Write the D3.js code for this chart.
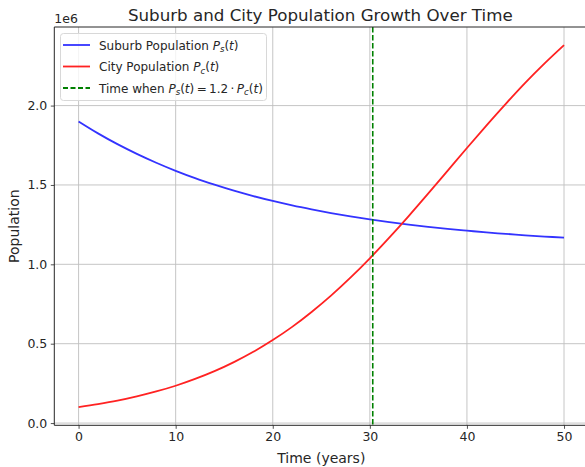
<!DOCTYPE html>
<html>
<head>
<meta charset="utf-8">
<script src="https://cdn.jsdelivr.net/npm/d3@7"></script>
<style>
  body { margin: 0; background: #fff; }
  text { font-family: "DejaVu Sans", sans-serif; fill: #262626; }
</style>
</head>
<body>
<svg id="chart" width="585" height="467"></svg>
<script>
var years = [0, 2, 4, 6, 8, 10, 12, 14, 16, 18, 20, 22, 24, 26, 28, 30, 32, 34, 36, 38, 40, 42, 44, 46, 48, 50];
var suburb = [1.900, 1.825, 1.757, 1.696, 1.640, 1.589, 1.543, 1.502, 1.464, 1.430, 1.399, 1.371, 1.346, 1.323, 1.302,
              1.283, 1.266, 1.250, 1.236, 1.223, 1.212, 1.201, 1.192, 1.183, 1.175, 1.168]; // millions
var city = [0.100, 0.119, 0.141, 0.168, 0.199, 0.235, 0.278, 0.327, 0.384, 0.449, 0.523, 0.606, 0.700, 0.803, 0.916,
            1.038, 1.168, 1.304, 1.445, 1.589, 1.733, 1.874, 2.011, 2.143, 2.266, 2.381]; // millions
var crossTime = 30.3;
var xTicks = [0, 10, 20, 30, 40, 50];
var yTicks = [0, 0.5e6, 1.0e6, 1.5e6, 2.0e6];

var svg = d3.select("#chart"),
    pLeft = 54.3, pRight = 588.3, pTop = 27, pBottom = 425.3;

var sData = years.map(function(t, i) { return {t: t, v: suburb[i] * 1e6}; });
var cData = years.map(function(t, i) { return {t: t, v: city[i] * 1e6}; });

// matplotlib style 5% margins
var xr = d3.extent(years), xpad = (xr[1] - xr[0]) * 0.05;
var all = suburb.concat(city).map(function(d) { return d * 1e6; });
var yr = d3.extent(all), ypad = (yr[1] - yr[0]) * 0.05;

var x = d3.scaleLinear().domain([xr[0] - xpad, xr[1] + xpad]).range([pLeft, pRight]);
var y = d3.scaleLinear().domain([yr[0] - ypad, yr[1] + ypad]).range([pBottom, pTop]);

svg.append("defs").append("clipPath").attr("id", "clip")
  .append("rect").attr("x", pLeft).attr("y", pTop).attr("width", pRight - pLeft).attr("height", pBottom - pTop);

// grid
var grid = svg.append("g").attr("stroke", "#b0b0b0").attr("stroke-width", 0.9).attr("opacity", 0.8);
grid.selectAll(".gx").data(xTicks).enter().append("line")
  .attr("x1", function(d) { return x(d); }).attr("x2", function(d) { return x(d); })
  .attr("y1", pTop).attr("y2", pBottom);
grid.selectAll(".gy").data(yTicks).enter().append("line")
  .attr("y1", function(d) { return y(d); }).attr("y2", function(d) { return y(d); })
  .attr("x1", pLeft).attr("x2", pRight);

// axes
var xAxis = svg.append("g").attr("transform", "translate(0," + pBottom + ")")
  .call(d3.axisBottom(x).tickValues(xTicks).tickSize(3.5).tickPadding(3.5).tickFormat(d3.format("d")));
var yAxis = svg.append("g").attr("transform", "translate(" + pLeft + ",0)")
  .call(d3.axisLeft(y).tickValues(yTicks).tickSize(3.5).tickPadding(3.5).tickFormat(function(d) { return (d / 1e6).toFixed(1); }));
[xAxis, yAxis].forEach(function(a) {
  a.select(".domain").remove();
  a.selectAll("line").attr("stroke", "#262626").attr("stroke-width", 0.8);
  a.selectAll("text").attr("font-size", 12.5).attr("fill", "#262626").attr("font-family", "DejaVu Sans");
});

// lines
var line = d3.line().x(function(d) { return x(d.t); }).y(function(d) { return y(d.v); }).curve(d3.curveCatmullRom);
var plot = svg.append("g").attr("clip-path", "url(#clip)");
plot.append("path").datum(sData).attr("d", line)
  .attr("fill", "none").attr("stroke", "#3333ff").attr("stroke-width", 1.8);
plot.append("path").datum(cData).attr("d", line)
  .attr("fill", "none").attr("stroke", "#ff2222").attr("stroke-width", 1.8);
plot.append("line")
  .attr("x1", x(crossTime)).attr("x2", x(crossTime)).attr("y1", pTop).attr("y2", pBottom)
  .attr("stroke", "#008000").attr("stroke-width", 1.6).attr("stroke-dasharray", "5.5,2.5");

// spines
svg.append("path").attr("d", "M" + pRight + "," + pTop + "H" + pLeft + "V" + pBottom + "H" + pRight)
  .attr("fill", "none").attr("stroke", "#262626").attr("stroke-width", 1);

// title and labels
svg.append("text").attr("x", (pLeft + pRight) / 2 - 1).attr("y", 21).attr("text-anchor", "middle")
  .attr("font-size", 16.7).text("Suburb and City Population Growth Over Time");
svg.append("text").attr("x", (pLeft + pRight) / 2).attr("y", 463).attr("text-anchor", "middle")
  .attr("font-size", 14).text("Time (years)");
svg.append("text").attr("transform", "translate(19," + (pTop + pBottom) / 2 + ") rotate(-90)")
  .attr("text-anchor", "middle").attr("font-size", 14).text("Population");
svg.append("text").attr("x", pLeft).attr("y", 23).attr("font-size", 12.5).text("1e6");

// legend
var lg = svg.append("g");
lg.append("rect").attr("x", 60.5).attr("y", 33.5).attr("width", 206).attr("height", 67).attr("rx", 3)
  .attr("fill", "#fff").attr("fill-opacity", 0.8).attr("stroke", "#d8d8d8").attr("stroke-width", 1);
var items = [
  {c: "#3333ff", dash: null, pre: "Suburb Population ", math: [["P", "s", "(", "t", ")"]]},
  {c: "#ff2222", dash: null, pre: "City Population ", math: [["P", "c", "(", "t", ")"]]},
  {c: "#008000", dash: "5,2.5", pre: "Time when ", math: [["P", "s", "(", "t", ")"], "\u2009=\u20091.2\u2009\u00b7\u2009", ["P", "c", "(", "t", ")"]]}
];
items.forEach(function(it, i) {
  var cy = 45 + i * 21.5;
  lg.append("line").attr("x1", 63).attr("x2", 90).attr("y1", cy).attr("y2", cy)
    .attr("stroke", it.c).attr("stroke-width", 1.8).attr("stroke-dasharray", it.dash);
  var t = lg.append("text").attr("x", 99).attr("y", cy + 4.5).attr("font-size", 12);
  t.append("tspan").text(it.pre);
  it.math.forEach(function(m) {
    if (typeof m === "string") { t.append("tspan").text(m); return; }
    t.append("tspan").attr("font-style", "italic").text(m[0]);
    t.append("tspan").attr("font-style", "italic").attr("font-size", 8.6).attr("dy", 2.5).text(m[1]);
    t.append("tspan").attr("dy", -2.5).text(m[2]);
    t.append("tspan").attr("font-style", "italic").text(m[3]);
    t.append("tspan").text(m[4]);
  });
});
</script>
</body>
</html>
